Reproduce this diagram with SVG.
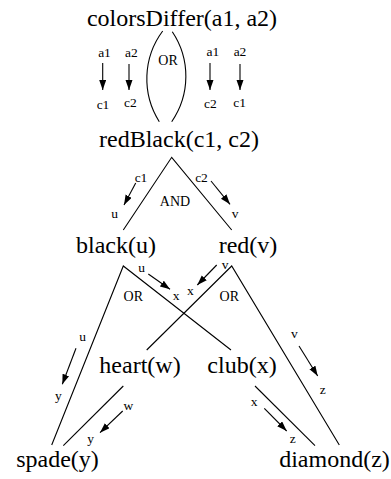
<svg xmlns="http://www.w3.org/2000/svg" width="391" height="479" viewBox="0 0 391 479">
<style>
text{font-family:"Liberation Serif","Times New Roman",serif;fill:#000;text-anchor:middle}
.n{font-size:24px}
.s{font-size:13.5px}
.o{font-size:14px}
.l{stroke:#000;stroke-width:1.1;fill:none}
.a{stroke:#000;stroke-width:1.1;fill:none;marker-end:url(#ah)}
</style>
<defs>
<marker id="ah" markerUnits="userSpaceOnUse" markerWidth="10" markerHeight="8" refX="10" refY="3.5" orient="auto">
<path d="M0,0 L10,3.5 L0,7 z" fill="#000"/>
</marker>
</defs>
<rect width="391" height="479" fill="#fff"/>
<g id="colorsDiffer"><text class="n" x="182" y="26">colorsDiffer(a1, a2)</text></g>
<g id="redBlack"><text class="n" x="179" y="147">redBlack(c1, c2)</text></g>
<g id="black"><text class="n" x="116" y="253">black(u)</text></g>
<g id="red"><text class="n" x="248" y="253">red(v)</text></g>
<g id="heart"><text class="n" x="140" y="373">heart(w)</text></g>
<g id="club"><text class="n" x="242" y="373">club(x)</text></g>
<g id="spade"><text class="n" x="57.5" y="467">spade(y)</text></g>
<g id="diamond"><text class="n" x="334.5" y="467">diamond(z)</text></g>
<g id="connectors">
<!-- top OR -->
<path class="l" d="M162.7,31 A80,80 0 0 0 159.3,121.7"/>
<path class="l" d="M172.3,31.7 A80,80 0 0 1 171.7,121.7"/>
<text class="o" x="168" y="65">OR</text>
<text class="s" x="104.5" y="57">a1</text>
<line class="a" x1="102.7" y1="63" x2="102.7" y2="90"/>
<text class="s" x="103" y="109">c1</text>
<text class="s" x="131.3" y="57">a2</text>
<line class="a" x1="129" y1="64" x2="129" y2="90"/>
<text class="s" x="130.3" y="107">c2</text>
<text class="s" x="212.8" y="56">a1</text>
<line class="a" x1="210" y1="63" x2="210" y2="90"/>
<text class="s" x="210.3" y="108">c2</text>
<text class="s" x="240" y="56">a2</text>
<line class="a" x1="240" y1="64" x2="240" y2="90"/>
<text class="s" x="239.7" y="107">c1</text>
<!-- AND -->
<polyline class="l" points="123.3,230 171.7,157.3 231.7,230"/>
<text class="o" x="175" y="206">AND</text>
<text class="s" x="141" y="182">c1</text>
<line class="a" x1="135.7" y1="183" x2="124" y2="205"/>
<text class="s" x="114.7" y="218">u</text>
<text class="s" x="201.5" y="182">c2</text>
<line class="a" x1="211" y1="181" x2="230" y2="204.3"/>
<text class="s" x="235" y="218">v</text>
<!-- black OR -->
<polyline class="l" points="51.7,445 123.3,266 231,350"/>
<text class="o" x="133.3" y="301">OR</text>
<text class="s" x="141.7" y="272">u</text>
<line class="a" x1="148.3" y1="274" x2="170" y2="289.3"/>
<text class="s" x="176.2" y="300">x</text>
<!-- red OR -->
<polyline class="l" points="146.7,350 231.7,266 339.3,445"/>
<text class="o" x="229.3" y="301">OR</text>
<text class="s" x="225" y="268.5">v</text>
<line class="a" x1="216.7" y1="265" x2="197.3" y2="285"/>
<text class="s" x="190.3" y="295">x</text>
<!-- lower left -->
<text class="s" x="82.7" y="341">u</text>
<line class="a" x1="76" y1="348.3" x2="62.3" y2="384.3"/>
<text class="s" x="58.3" y="400">y</text>
<line class="l" x1="123.3" y1="386" x2="63.3" y2="445.7"/>
<text class="s" x="128.3" y="410">w</text>
<line class="a" x1="122.7" y1="411" x2="100" y2="432.7"/>
<text class="s" x="90.7" y="442.5">y</text>
<!-- lower right -->
<line class="l" x1="255" y1="386" x2="315" y2="445.7"/>
<text class="s" x="254" y="406">x</text>
<line class="a" x1="264.3" y1="408.3" x2="286.7" y2="431"/>
<text class="s" x="292.7" y="443">z</text>
<text class="s" x="294.3" y="338">v</text>
<line class="a" x1="299" y1="346" x2="317.7" y2="376"/>
<text class="s" x="322.7" y="394">z</text>
</g>
</svg>
